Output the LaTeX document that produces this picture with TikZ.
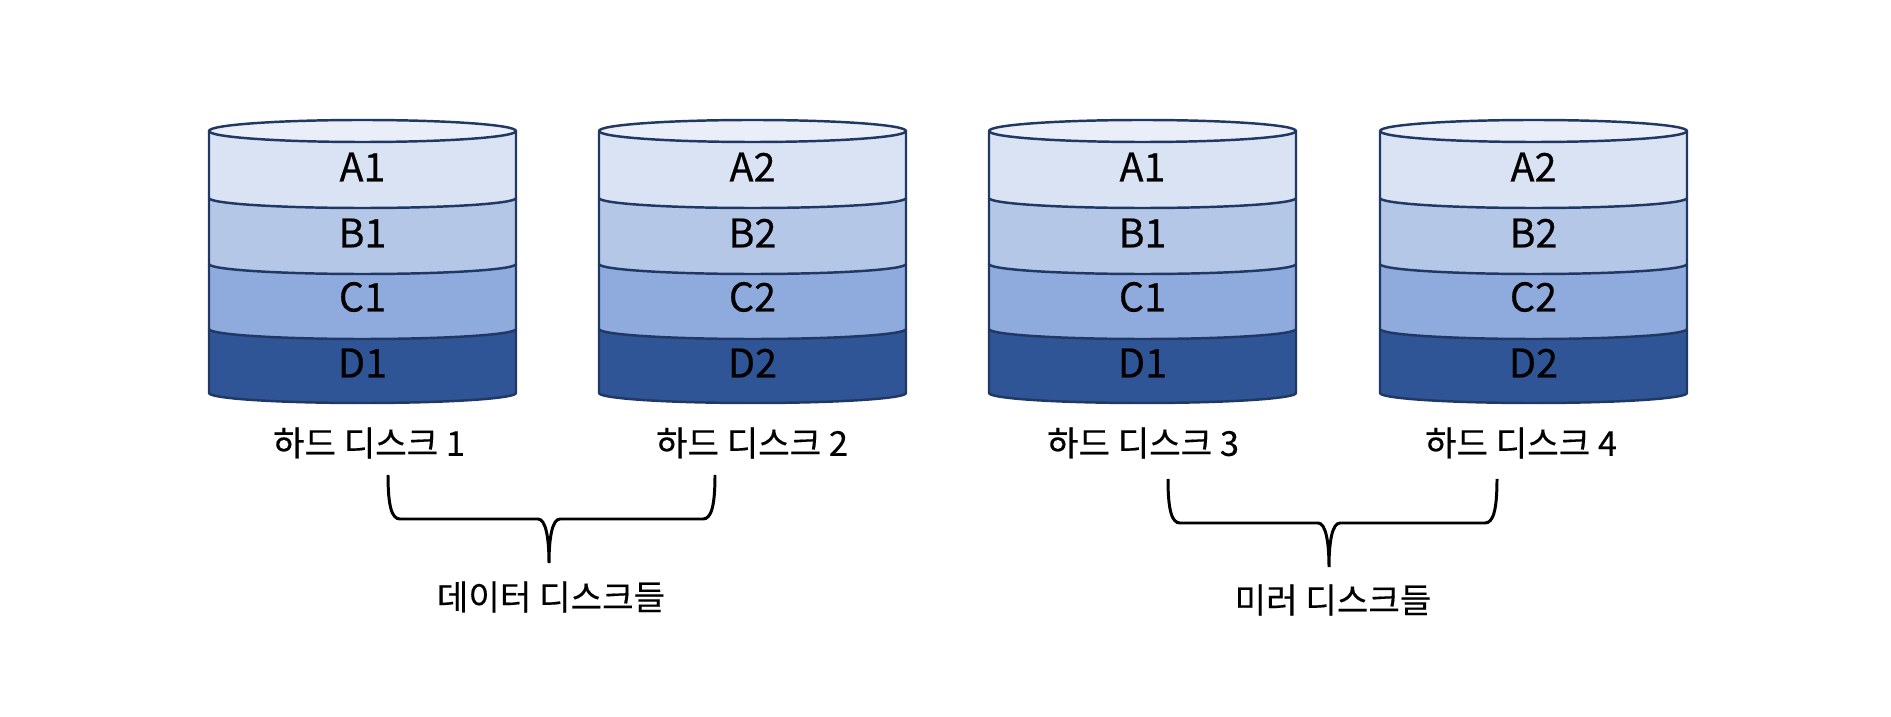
\documentclass[tikz,border=0pt]{standalone}
\usepackage{fontspec}
\setmainfont{Noto Sans CJK KR}[FakeBold=0.35]
\usepackage{xcolor}
\usetikzlibrary{calc}
\definecolor{lineblue}{HTML}{203864}
\definecolor{topcol}{HTML}{E9EEF8}
\definecolor{colA}{HTML}{DAE3F3}
\definecolor{colB}{HTML}{B4C7E7}
\definecolor{colC}{HTML}{8FAADC}
\definecolor{colD}{HTML}{2F5597}

\begin{document}
\begin{tikzpicture}[x=0.02cm, y=0.02cm]
	% Styles
	\tikzstyle{layer} = [draw=lineblue, line width=1.4pt, line join=round]
	\tikzstyle{layertext} = [font=\fontsize{22.5}{25}\selectfont, inner sep=0pt]
	\tikzstyle{disklabel} = [font=\fontsize{19.5}{23}\selectfont, inner sep=0pt]
	\tikzstyle{bracket} = [draw=black, line width=1.7pt]

	\useasboundingbox (0,0) rectangle (1891,717);

	% Disks
	\foreach \x/\n/\s/\lx in {209/1/1/369, 599/2/2/752, 989/3/1/1143, 1380/4/2/1521} {
		\foreach \lay/\top/\bot/\ty in {D/388/324/354, C/453/388/420, B/519/453/484, A/586/519/550} {
			\path [layer, fill=col\lay] (\x,\top) -- (\x,\bot)
				arc [start angle=180, end angle=360, x radius=153.5, y radius=10]
				-- ++(0,{\top-\bot}) -- cycle;
			\node (disk\n\lay) [layertext] at (\x+153.5,\ty) {\lay\s};
		}
		\path [layer, fill=topcol] (\x+153.5,586) ellipse [x radius=153.5, y radius=11];
		\node (label\n) [disklabel] at (\lx,274) {하드 디스크 \n};
	}

	% Brace ends
	\coordinate (dataL) at (388,242);
	\coordinate (dataR) at (715,242);
	\coordinate (dataT) at (549,154);
	\coordinate (mirrorL) at (1168,238);
	\coordinate (mirrorR) at (1497,238);
	\coordinate (mirrorT) at (1329,150);

	% Names
	\node (datalabel) [disklabel] at (551,120) {데이터 디스크들};
	\node (mirrorlabel) [disklabel] at (1333,117) {미러 디스크들};

	% Connections
	\foreach \b in {data, mirror} {
		\draw [bracket] (\b L) .. controls +(0,-32) and +(-8,0) .. ($(\b L)+(12,-44)$)
			-- ($(\b T)+(-11,44)$) .. controls +(8,0) and +(0,24) .. (\b T)
			.. controls +(0,24) and +(-8,0) .. ($(\b T)+(11,44)$)
			-- ($(\b R)+(-12,-44)$) .. controls +(8,0) and +(0,-32) .. (\b R);
	}
\end{tikzpicture}
\end{document}
